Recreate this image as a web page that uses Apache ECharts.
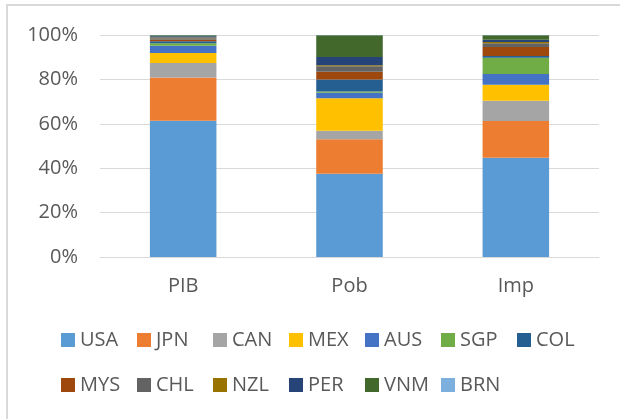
<!DOCTYPE html>
<html>
<head>
<meta charset="utf-8">
<script src="https://cdn.jsdelivr.net/npm/echarts@6/dist/echarts.min.js"></script>
<style>
  html, body { margin: 0; padding: 0; background: #fff; }
  #main { width: 620px; height: 419px; }
</style>
</head>
<body>
<div id="main"></div>
<script>
// categorias del eje x
const categories = ["PIB", "Pob", "Imp"];
const yTicks = [0, 20, 40, 60, 80, 100];

// participacion (%) de cada pais
const USA = [61.4, 37.5, 44.7];
const JPN = [19.5, 15.5, 16.6];
const CAN = [6.5, 3.9, 9.1];
const MEX = [4.5, 14.6, 7.2];
const AUS = [3.3, 2.5, 4.8];
const SGP = [1.1, 0.6, 7.4];
const COL = [0.9, 5.4, 0.7];
const MYS = [0.7, 3.5, 4.1];
const CHL = [0.6, 2.4, 1.7];
const NZL = [0.4, 0.5, 0.5];
const PER = [0.5, 3.7, 1.1];
const VNM = [0.5, 9.8, 2.0];
const BRN = [0.1, 0.1, 0.1];

const names = ["USA", "JPN", "CAN", "MEX", "AUS", "SGP", "COL", "MYS", "CHL", "NZL", "PER", "VNM", "BRN"];
const values = [USA, JPN, CAN, MEX, AUS, SGP, COL, MYS, CHL, NZL, PER, VNM, BRN];
const colors = ["#5B9BD5", "#ED7D31", "#A5A5A5", "#FFC000", "#4472C4", "#70AD47", "#255E91",
                "#9E480E", "#636363", "#997300", "#264478", "#43682B", "#7CAFDD"];

const font = "'Open Sans', sans-serif";
const textColor = "#595959";

let chartMain = echarts.init(document.getElementById("main"));
let option = {
  backgroundColor: "#fff",
  animation: false,
  color: colors,
  textStyle: { fontFamily: font },
  graphic: [
    {
      type: "rect",
      shape: { x: 7, y: 5, width: 700, height: 500 },
      style: { fill: "none", stroke: "#D9D9D9", lineWidth: 2 },
      silent: true,
    },
  ],
  grid: {
    left: 100,
    right: 21,
    top: 35,
    bottom: 162,
  },
  legend: {
    left: 61,
    top: 320,
    width: 540,
    padding: 0,
    itemWidth: 14,
    itemHeight: 14,
    itemGap: 5,
    icon: "rect",
    data: names,
    textStyle: {
      fontFamily: font,
      fontSize: 20,
      color: textColor,
      width: 52,
      lineHeight: 40,
    },
  },
  xAxis: {
    type: "category",
    data: categories,
    axisTick: { show: false },
    axisLine: { lineStyle: { color: "#D9D9D9", width: 1 } },
    axisLabel: {
      margin: 19,
      fontSize: 20,
      color: textColor,
      fontFamily: font,
    },
  },
  yAxis: {
    type: "value",
    min: yTicks[0],
    max: yTicks[yTicks.length - 1],
    interval: 20,
    axisLine: { show: false },
    axisTick: { show: false },
    splitLine: { lineStyle: { color: "#D9D9D9", width: 1 } },
    axisLabel: {
      margin: 22,
      fontSize: 20,
      color: textColor,
      fontFamily: font,
      formatter: "{value}%",
    },
  },
  series: names.map((n, i) => ({
    name: n,
    type: "bar",
    stack: "total",
    barWidth: "40%",
    data: values[i],
  })),
};
chartMain.setOption(option);
</script>
</body>
</html>
